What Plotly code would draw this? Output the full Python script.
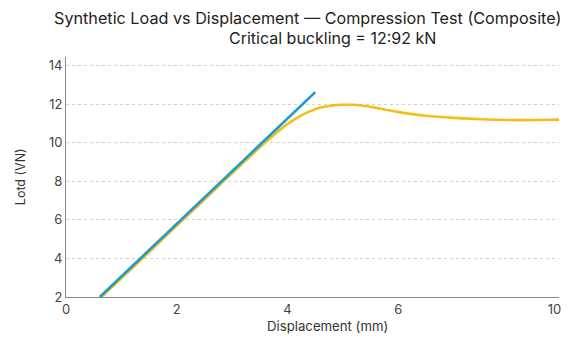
import plotly.graph_objects as go

# Data
fit_x = [0.61, 4.50]
fit_y = [2.0, 12.63]

curve_x = [0.64, 1.0, 1.5, 2.0, 2.5, 3.0, 3.5, 3.8, 4.0, 4.2, 4.4, 4.6, 4.8,
           5.0, 5.2, 5.4, 5.6, 5.8, 6.0, 6.5, 7.0, 7.5, 8.0, 8.5, 8.9]
curve_y = [2.0, 2.97, 4.33, 5.7, 7.06, 8.42, 9.76, 10.52, 10.98, 11.35, 11.63,
           11.83, 11.93, 11.97, 11.97, 11.91, 11.81, 11.7, 11.59, 11.4, 11.29,
           11.22, 11.18, 11.18, 11.2]

x_tick_vals = [0, 2, 4, 6, 8.82]
x_tick_text = ["0", "2", "4", "6", "10"]
y_tick_vals = [2, 4, 6, 8, 10, 12, 14]

title_line1 = "Synthetic Load vs Displacement — Compression Test (Composite)"
title_line2 = "Critical buckling = 12:92 kN"

FONT = "Inter"
fig = go.Figure()
fig.add_trace(go.Scatter(x=curve_x, y=curve_y, mode="lines",
                         line=dict(color="#F2BE1A", width=2.6, shape="spline", smoothing=0.6),
                         showlegend=False, hoverinfo="skip"))
fig.add_trace(go.Scatter(x=fit_x, y=fit_y, mode="lines",
                         line=dict(color="#1F9AC9", width=2.6),
                         showlegend=False, hoverinfo="skip"))

fig.update_layout(
    width=570, height=337,
    margin=dict(l=66, r=9, t=57, b=40),
    paper_bgcolor="white", plot_bgcolor="white",
    font=dict(family=FONT, color="#333333", size=13),
    xaxis=dict(range=[0, 8.9], tickvals=x_tick_vals, ticktext=x_tick_text,
               showgrid=False, zeroline=False, showline=True, linecolor="#888888",
               linewidth=1, ticks="", tickfont=dict(size=13, color="#444444")),
    yaxis=dict(range=[2, 14.45], tickvals=y_tick_vals, showgrid=True,
               gridcolor="#d0d0d0", griddash="dot", gridwidth=1,
               zeroline=False, showline=True, linecolor="#888888", linewidth=1,
               ticks="", tickfont=dict(size=13, color="#444444")),
    annotations=[
        dict(text=title_line1, x=308, y=18, showarrow=False,
             font=dict(size=16.2, color="#222222"), xanchor="center", yanchor="middle"),
        dict(text=title_line2, x=334, y=38, showarrow=False,
             font=dict(size=16, color="#222222"), xanchor="center", yanchor="middle"),
        dict(text="Displacement (mm)", x=329, y=326, showarrow=False,
             font=dict(size=13.2, color="#333333"), xanchor="center", yanchor="middle"),
        dict(text="Lotd (VN)", x=20, y=177, showarrow=False, textangle=-90,
             font=dict(size=12.5, color="#333333"), xanchor="center", yanchor="middle"),
    ],
)

# convert pixel-based annotation positions to paper coordinates
pl, pr, pt, pb = 66, 561, 57, 297
for a in fig.layout.annotations:
    px, py = a.x, a.y
    a.xref = "paper"; a.yref = "paper"
    a.x = (px - pl) / (pr - pl)
    a.y = (pb - py) / (pb - pt)

fig.write_html("out.html")
